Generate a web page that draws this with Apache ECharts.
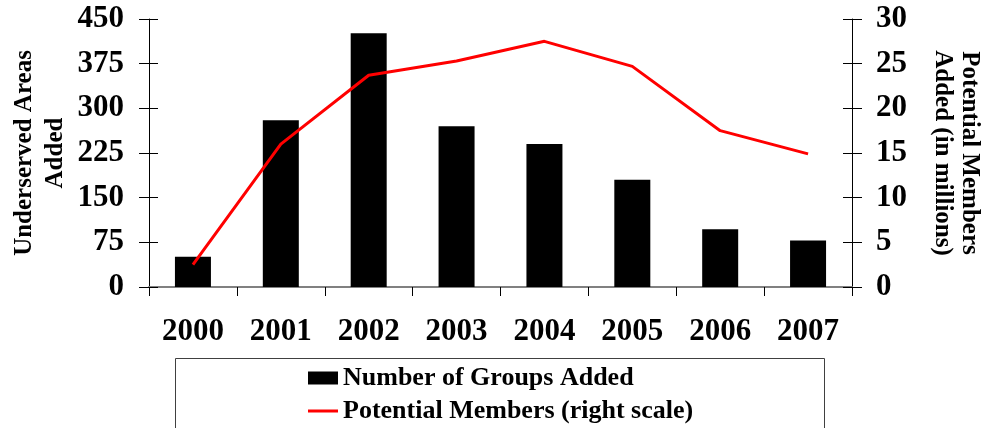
<!DOCTYPE html>
<html>
<head>
<meta charset="utf-8">
<script src="https://cdn.jsdelivr.net/npm/echarts@6/dist/echarts.min.js"></script>
<style>html,body{margin:0;padding:0;background:#fff;}#c{width:984px;height:428px;}</style>
</head>
<body>
<div id="c"></div>
<script>
const categories = ['2000','2001','2002','2003','2004','2005','2006','2007'];
const groupsAdded = [51, 280, 426, 270, 240, 180, 97, 78];
const potentialMembers = [2.5, 16.0, 23.7, 25.3, 27.5, 24.7, 17.5, 14.9];
const leftTicks = [0, 75, 150, 225, 300, 375, 450];
const rightTicks = [0, 5, 10, 15, 20, 25, 30];

const FONT = 'Liberation Serif';
const chart = echarts.init(document.getElementById('c'), null, {renderer: 'canvas'});
const lblL = {fontFamily: FONT, fontWeight: 'bold', fontSize: 31, color: '#000'};
const legendText = {fontFamily: FONT, fontWeight: 'bold', fontSize: 26, color: '#000'};

chart.setOption({
  animation: false,
  backgroundColor: '#fff',
  grid: {left: 149, right: 132, top: 19, bottom: 141, containLabel: false, outerBoundsMode: 'none'},
  xAxis: {
    type: 'category',
    data: categories,
    axisLine: {lineStyle: {color: '#808080', width: 2}},
    axisTick: {show: true, length: 9, lineStyle: {color: '#000', width: 1}},
    axisLabel: {fontFamily: FONT, fontWeight: 'bold', fontSize: 31, color: '#000', margin: 29}
  },
  yAxis: [
    {
      type: 'value', min: 0, max: 450, interval: 75, position: 'left',
      name: 'Underserved Areas\nAdded', nameLocation: 'middle', nameGap: 78, nameRotate: 90,
      nameMoveOverlap: false,
      nameTextStyle: {fontFamily: FONT, fontWeight: 'bold', fontSize: 25, color: '#000', lineHeight: 31},
      axisLine: {show: true, lineStyle: {color: '#000', width: 1}},
      axisTick: {show: true, length: 10, lineStyle: {color: '#000'}},
      axisLabel: Object.assign({margin: 25, formatter: v => leftTicks.includes(v) ? String(v) : ''}, lblL),
      splitLine: {show: false}
    },
    {
      type: 'value', min: 0, max: 30, interval: 5, position: 'right',
      name: 'Potential Members\nAdded (in millions)', nameLocation: 'middle', nameGap: 77, nameRotate: -90,
      nameMoveOverlap: false,
      nameTextStyle: {fontFamily: FONT, fontWeight: 'bold', fontSize: 25, color: '#000', lineHeight: 27},
      axisLine: {show: true, lineStyle: {color: '#000', width: 1}},
      axisTick: {show: true, length: 10, lineStyle: {color: '#000'}},
      axisLabel: Object.assign({margin: 24, formatter: v => rightTicks.includes(v) ? String(v) : ''}, lblL),
      splitLine: {show: false}
    },
    {
      type: 'value', min: 0, max: 450, interval: 75, position: 'left',
      axisLine: {show: false},
      axisTick: {show: true, inside: true, length: 9, lineStyle: {color: '#000'}},
      axisLabel: {show: false}, splitLine: {show: false}
    },
    {
      type: 'value', min: 0, max: 30, interval: 5, position: 'right',
      axisLine: {show: false},
      axisTick: {show: true, inside: true, length: 9, lineStyle: {color: '#000'}},
      axisLabel: {show: false}, splitLine: {show: false}
    }
  ],
  legend: [
    {
      left: 308, top: 365, padding: 0,
      itemWidth: 30, itemHeight: 13,
      textStyle: legendText,
      data: [{name: 'Number of Groups Added', icon: 'rect'}]
    },
    {
      left: 308, top: 398, padding: 0,
      itemWidth: 30, itemHeight: 13,
      textStyle: legendText,
      data: [{name: 'Potential Members (right scale)', icon: 'path://M0,0H30V3H0Z'}]
    }
  ],
  graphic: [{
    type: 'rect', shape: {x: 175.5, y: 358.5, width: 649, height: 100},
    style: {fill: 'none', stroke: '#404040', lineWidth: 1}, silent: true
  }],
  series: [
    {
      name: 'Number of Groups Added', type: 'bar', yAxisIndex: 0,
      data: groupsAdded, barWidth: 36,
      itemStyle: {color: '#000'}
    },
    {
      name: 'Potential Members (right scale)', type: 'line', yAxisIndex: 1,
      data: potentialMembers, symbol: 'none',
      lineStyle: {color: '#ff0000', width: 3}, itemStyle: {color: '#ff0000'}
    }
  ]
});
</script>
</body>
</html>
